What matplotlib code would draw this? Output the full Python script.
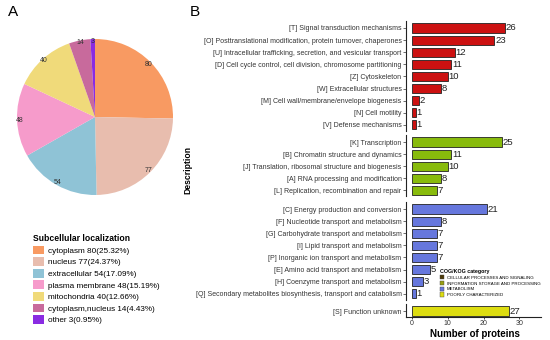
import matplotlib
matplotlib.use("Agg")
import matplotlib.pyplot as plt
from matplotlib.patches import Patch

plt.rcParams['font.family'] = ['Liberation Sans', 'DejaVu Sans']

# ---- pie data (panel A)
loc_names = ['cytoplasm', 'nucleus', 'extracellular', 'plasma membrane',
             'mitochondria', 'cytoplasm,nucleus', 'other']
loc_counts = [80, 77, 54, 48, 40, 14, 3]
loc_pct = ['25.32%', '24.37%', '17.09%', '15.19%', '12.66%', '4.43%', '0.95%']
loc_colors = ['#F89A62', '#E8BDAE', '#8FC3D6', '#F69BCB', '#F0DA7A', '#C86A9C', '#8A2BE2']

# ---- COG/KOG data (panel B)
cell_terms = ['[T] Signal transduction mechanisms',
              '[O] Posttranslational modification, protein turnover, chaperones',
              '[U] Intracellular trafficking, secretion, and vesicular transport',
              '[D] Cell cycle control, cell division, chromosome partitioning',
              '[Z] Cytoskeleton', '[W] Extracellular structures',
              '[M] Cell wall/membrane/envelope biogenesis',
              '[N] Cell motility', '[V] Defense mechanisms']
cell_vals = [26, 23, 12, 11, 10, 8, 2, 1, 1]
info_terms = ['[K] Transcription', '[B] Chromatin structure and dynamics',
              '[J] Translation, ribosomal structure and biogenesis',
              '[A] RNA processing and modification',
              '[L] Replication, recombination and repair']
info_vals = [25, 11, 10, 8, 7]
met_terms = ['[C] Energy production and conversion',
             '[F] Nucleotide transport and metabolism',
             '[G] Carbohydrate transport and metabolism',
             '[I] Lipid transport and metabolism',
             '[P] Inorganic ion transport and metabolism',
             '[E] Amino acid transport and metabolism',
             '[H] Coenzyme transport and metabolism',
             '[Q] Secondary metabolites biosynthesis, transport and catabolism']
met_vals = [21, 8, 7, 7, 7, 5, 3, 1]
poor_terms = ['[S] Function unknown']
poor_vals = [27]
cog_names = ['CELLULAR PROCESSES AND SIGNALING', 'INFORMATION STORAGE AND PROCESSING',
             'METABOLISM', 'POORLY CHARACTERIZED']
bar_colors = ['#CC1111', '#88BB0C', '#6677DD', '#DDDD11']
key_colors = ['#4D3A08', '#99A010', '#6677DD', '#DDDD11']
xticks = [0, 10, 20, 30]

W, H = 550, 340
fig = plt.figure(figsize=(5.5, 3.4), dpi=100)

# ---------------- panel A
axp = fig.add_axes([17 / W, 1 - 195 / H, 156 / W, 156 / H])
wedges, txt = axp.pie(loc_counts, colors=loc_colors, startangle=90, counterclock=False,
                      labels=[str(v) for v in loc_counts], labeldistance=0.97,
                      textprops={'fontsize': 5, 'color': '#333333'})
for t in txt:
    t.set_ha('center')
    t.set_va('center')
axp.set_xlim(-1, 1)
axp.set_ylim(-1, 1)
axp.set_aspect('equal')

handles = [Patch(facecolor=c, edgecolor='none') for c in loc_colors]
labs = ['%s %d(%s)' % (n, v, p) for n, v, p in zip(loc_names, loc_counts, loc_pct)]
leg = fig.legend(handles, labs, loc='upper left', bbox_to_anchor=(26 / W, 1 - 227 / H),
                 frameon=False, fontsize=5.9, title='Subcellular localization',
                 title_fontproperties={'weight': 'bold', 'size': 6.2},
                 handlelength=1.3, handleheight=1.25, labelspacing=0.3, handletextpad=0.5)
leg._legend_box.align = 'left'

fig.text(8 / W, 1 - 12 / H, 'A', fontsize=11, va='center', ha='left')
fig.text(190 / W, 1 - 12 / H, 'B', fontsize=11, va='center', ha='left')

# ---------------- panel B
groups = [(cell_terms, cell_vals), (info_terms, info_vals),
          (met_terms, met_vals), (poor_terms, poor_vals)]
first_centers = [28, 142, 209, 311]
u = 12.1
x0, x1 = 406, 541
axes = []
for gi, ((terms, vals), yc) in enumerate(zip(groups, first_centers)):
    n = len(terms)
    top = yc - 0.55 * u
    bot = yc + (n - 1) * u + 0.5 * u
    ax = fig.add_axes([x0 / W, 1 - bot / H, (x1 - x0) / W, (bot - top) / H])
    pos = list(range(n))
    ax.barh(pos, vals, height=0.75, color=bar_colors[gi], edgecolor='#222222', linewidth=0.6)
    for p, v in zip(pos, vals):
        ax.text(v + 0.2, p, str(v), va='center', ha='left', fontsize=6.8, color='#222222')
    ax.set_ylim(n - 0.5, -0.55)
    ax.set_xlim(-1.65, 36)
    ax.set_yticks(pos)
    ax.set_yticklabels(terms, fontsize=5.0, color='#333333')
    ax.tick_params(axis='y', length=2, width=0.5, pad=1.2, colors='#333333')
    for s in ['top', 'right', 'bottom']:
        ax.spines[s].set_visible(False)
    ax.spines['left'].set_linewidth(0.8)
    ax.spines['left'].set_color('#222222')
    ax.set_xticks([])
    axes.append(ax)

axb = axes[-1]
axb.spines['bottom'].set_visible(True)
axb.spines['bottom'].set_linewidth(0.8)
axb.spines['bottom'].set_color('#222222')
axb.set_xticks(xticks)
axb.set_xticklabels([str(t) for t in xticks], fontsize=5.0, color='#333333')
axb.tick_params(axis='x', length=1.5, width=0.5, pad=0.8)

fig.text(475 / W, 1 - 334 / H, 'Number of proteins', fontsize=7, fontweight='bold',
         va='center', ha='center')
fig.text(188 / W, 1 - 170 / H, 'Description', rotation=90, fontsize=6.2,
         fontweight='bold', va='center', ha='center')

ch = [Patch(facecolor=c, edgecolor='#444444', linewidth=0.3) for c in key_colors]
leg2 = fig.legend(ch, cog_names, loc='upper left', bbox_to_anchor=(437 / W, 1 - 266 / H),
                  frameon=False, fontsize=3.2, title='COG/KOG category',
                  title_fontproperties={'weight': 'bold', 'size': 3.8},
                  handlelength=0.9, handleheight=1.1, labelspacing=0.25, handletextpad=0.6,
                  borderpad=0.2)
leg2._legend_box.align = 'left'

fig.savefig('out.png', dpi=100)
